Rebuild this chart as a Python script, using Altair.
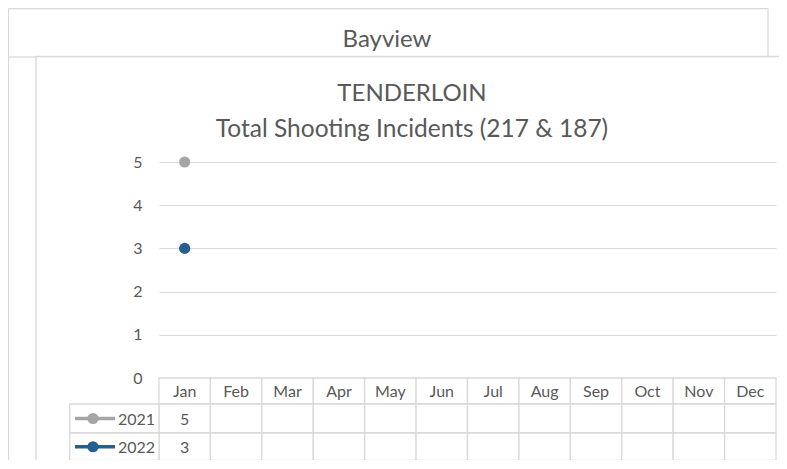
import altair as alt
import pandas as pd

# ---- data ----
months = ["Jan", "Feb", "Mar", "Apr", "May", "Jun", "Jul", "Aug", "Sep", "Oct", "Nov", "Dec"]
years = ["2021", "2022"]
values_2021 = [5, None, None, None, None, None, None, None, None, None, None, None]
values_2022 = [3, None, None, None, None, None, None, None, None, None, None, None]
series_colors = ["#A5A5A5", "#255E91"]
y_ticks = [0, 1, 2, 3, 4, 5]
back_title = "Bayview"
title_lines = ["TENDERLOIN", "Total Shooting Incidents (217 & 187)"]

# ---- styling ----
FONT = "Lato"
TXT = "#595959"
GRID = "#D9D9D9"
W, H = 617, 216
MS = 125  # marker area

rows = []
for yr, vals in zip(years, [values_2021, values_2022]):
    for m, v in zip(months, vals):
        rows.append({"month": m, "year": yr, "value": v,
                     "label": "" if v is None else str(v)})
df = pd.DataFrame(rows)
mdf = pd.DataFrame({"month": months})
one = pd.DataFrame({"a": [0]})

xscale = alt.Scale(domain=months, paddingInner=0, paddingOuter=0)
yscale = alt.Scale(domain=[0, 5], nice=False, zero=True)
X = alt.X("month:N", scale=xscale, axis=None, sort=months)

# frame lines (decoration)
def hline(x1, x2, y):
    return alt.Chart(one).mark_rule(color=GRID, strokeWidth=1.3).encode(
        x=alt.value(x1), x2=alt.value(x2), y=alt.value(y))

def vline(x, y1, y2):
    return alt.Chart(one).mark_rule(color=GRID, strokeWidth=1.3).encode(
        x=alt.value(x), y=alt.value(y1), y2=alt.value(y2))

frame = [
    hline(-150.5, 609, -153.5),
    vline(-150.5, -153.5, 300),
    vline(609, -153.5, -105.5),
    hline(-150.5, -123, -105),
    hline(-123, 640, -105.5),
    vline(-123, -105.5, 300),
]

def title_text(txt, x, y, size):
    return alt.Chart(pd.DataFrame({"t": [txt]})).mark_text(
        font=FONT, fontSize=size, color=TXT, align="center", baseline="alphabetic"
    ).encode(text="t:N", x=alt.value(x), y=alt.value(y))

titles = [
    title_text(back_title, 228, -115, 24),
    title_text(title_lines[0], 253, -61, 24),
    title_text(title_lines[1], 253, -25, 24.5),
]

# gridlines + y axis
base_points = alt.Chart(df).transform_filter("datum.value != null")

points = base_points.mark_point(filled=True, size=MS, opacity=1).encode(
    x=X,
    y=alt.Y("value:Q", scale=yscale,
            axis=alt.Axis(values=y_ticks, grid=True, gridColor=GRID, gridWidth=1.2,
                          domain=False, ticks=False, labelFont=FONT, labelFontSize=16,
                          labelColor=TXT, labelPadding=17, title=None)),
    color=alt.Color("year:N", scale=alt.Scale(domain=years, range=series_colors), legend=None),
)
lines = alt.Chart(df).mark_line(strokeWidth=3).encode(
    x=X, y=alt.Y("value:Q", scale=yscale),
    color=alt.Color("year:N", scale=alt.Scale(domain=years, range=series_colors), legend=None),
)

# data table
row_top = [216, 242, 271]
row_bot = [242, 271, 298.5]
table = []
for t, b in zip(row_top, row_bot):
    table.append(alt.Chart(mdf).mark_rect(fill="white", stroke=GRID, strokeWidth=1.3).encode(
        x=X, y=alt.value(t), y2=alt.value(b)))
table.append(alt.Chart(mdf).mark_text(font=FONT, fontSize=16, color=TXT, baseline="middle").encode(
    x=X, y=alt.value((row_top[0] + row_bot[0]) / 2 + 1), text="month:N"))
for i, yr in enumerate(years):
    t, b = row_top[i + 1], row_bot[i + 1]
    cy = (t + b) / 2
    sub = df[df["year"] == yr]
    table.append(alt.Chart(one).mark_rect(fill="white", stroke=GRID, strokeWidth=1.3).encode(
        x=alt.value(-89.3), x2=alt.value(0), y=alt.value(t), y2=alt.value(b)))
    table.append(alt.Chart(sub).mark_text(font=FONT, fontSize=16, color=TXT, baseline="middle").encode(
        x=X, y=alt.value(cy + 1), text="label:N"))
    table.append(alt.Chart(pd.DataFrame({"y": [yr]})).mark_text(
        font=FONT, fontSize=16, color=TXT, align="left", baseline="middle").encode(
        x=alt.value(-41), y=alt.value(cy + 1), text="y:N"))
    table.append(alt.Chart(one).mark_rule(color=series_colors[i], strokeWidth=3.5).encode(
        x=alt.value(-84), x2=alt.value(-44), y=alt.value(cy)))
    table.append(alt.Chart(one).mark_point(filled=True, size=MS, opacity=1, color=series_colors[i]).encode(
        x=alt.value(-66), y=alt.value(cy)))

chart = alt.layer(*frame, *titles, points, lines, *table).properties(
    width=W, height=H,
    autosize=alt.AutoSizeParams(type="none"),
    padding={"left": 151, "top": 154, "right": 3, "bottom": 82},
    background="white",
).configure_view(stroke=None)

chart.save("out.html", embed_options={"renderer": "svg", "actions": False})
